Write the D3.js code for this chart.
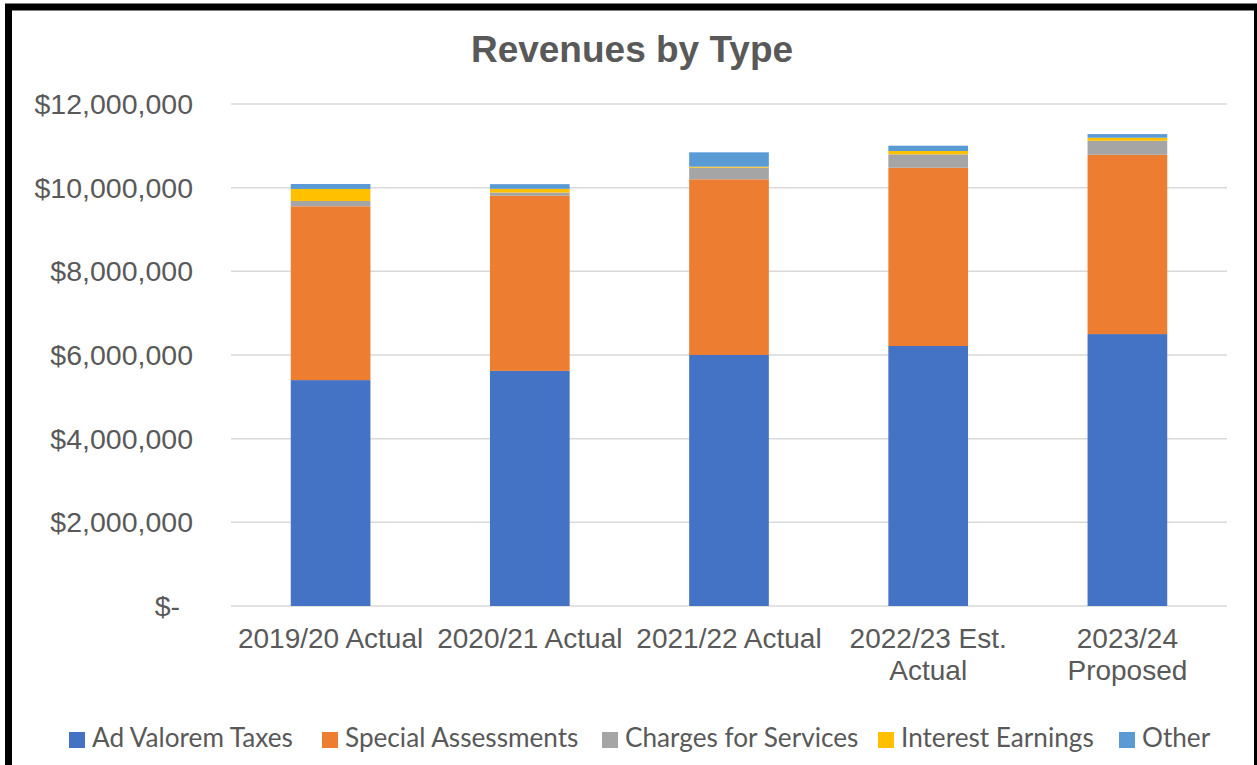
<!DOCTYPE html>
<html>
<head>
<meta charset="utf-8">
<script src="https://cdn.jsdelivr.net/npm/d3@7"></script>
<style>
  body { margin: 0; background: #fff; }
  svg { display: block; }
</style>
</head>
<body>
<svg id="chart" width="1257" height="765"></svg>
<script>
// categories (each entry is the lines of the axis label)
var categories = [
  ["2019/20 Actual"],
  ["2020/21 Actual"],
  ["2021/22 Actual"],
  ["2022/23 Est.", "Actual"],
  ["2023/24", "Proposed"]
];

// series values (dollars)
var adValorem   = [5400000, 5620000, 6000000, 6215000, 6500000];
var specialAss  = [4155000, 4185000, 4200000, 4262000, 4286000];
var charges     = [127000, 79000, 277000, 320000, 335000];
var interest    = [287000, 88000, 24000, 79000, 72000];
var other       = [119000, 112000, 344000, 127000, 88000];

var seriesNames = ["Ad Valorem Taxes", "Special Assessments", "Charges for Services", "Interest Earnings", "Other"];
var seriesColors = ["#4472C4", "#ED7D31", "#A5A5A5", "#FFC000", "#5B9BD5"];

var yTicks = [0, 2000000, 4000000, 6000000, 8000000, 10000000, 12000000];

var svg = d3.select("#chart");
var textColor = "#595959";

// rows for the stack
var rows = categories.map(function(c, i) {
  return {
    cat: c.join(" "),
    "Ad Valorem Taxes": adValorem[i],
    "Special Assessments": specialAss[i],
    "Charges for Services": charges[i],
    "Interest Earnings": interest[i],
    "Other": other[i]
  };
});

var x = d3.scaleBand()
  .domain(rows.map(function(d) { return d.cat; }))
  .range([231, 1227])
  .paddingInner(0.6)
  .paddingOuter(0.3);

var y = d3.scaleLinear().domain([0, 12000000]).range([606, 104]);

var color = d3.scaleOrdinal().domain(seriesNames).range(seriesColors);

// title
svg.append("text")
  .attr("x", 632)
  .attr("y", 62)
  .attr("text-anchor", "middle")
  .style("font-family", "'Liberation Sans', Arial, sans-serif")
  .style("font-weight", "bold")
  .style("font-size", "37px")
  .style("fill", textColor)
  .text("Revenues by Type");

// gridlines
svg.append("g")
  .selectAll("line")
  .data(yTicks)
  .enter().append("line")
  .attr("x1", 231)
  .attr("x2", 1227)
  .attr("y1", function(d) { return y(d); })
  .attr("y2", function(d) { return y(d); })
  .style("stroke", "#d9d9d9")
  .style("stroke-width", 1.5);

// y axis
var yAxis = svg.append("g")
  .attr("transform", "translate(231,0)")
  .call(d3.axisLeft(y)
    .tickValues(yTicks)
    .tickSize(0)
    .tickPadding(38)
    .tickFormat(function(d) { return d === 0 ? "$-" : "$" + d3.format(",")(d); }));
yAxis.select(".domain").remove();
yAxis.selectAll("text")
  .style("font-family", "'Liberation Sans', Arial, sans-serif")
  .style("font-size", "28.5px")
  .style("fill", textColor)
  .attr("dy", "0.33em")
  .attr("dx", function(d) { return d === 0 ? -13 : 0; });

// stacked bars
var stack = d3.stack().keys(seriesNames);
var layers = stack(rows);

svg.append("g")
  .selectAll("g")
  .data(layers)
  .enter().append("g")
  .attr("fill", function(d) { return color(d.key); })
  .selectAll("rect")
  .data(function(d) { return d; })
  .enter().append("rect")
  .attr("x", function(d) { return x(d.data.cat); })
  .attr("width", x.bandwidth())
  .attr("y", function(d) { return y(d[1]); })
  .attr("height", function(d) { return y(d[0]) - y(d[1]); });

// x axis
var xAxis = svg.append("g")
  .attr("transform", "translate(0,606)")
  .call(d3.axisBottom(x).tickSize(0).tickFormat(""));
xAxis.select(".domain").remove();
xAxis.selectAll(".tick").each(function(d, i) {
  var t = d3.select(this).append("text")
    .attr("text-anchor", "middle")
    .attr("y", 42)
    .style("font-family", "'Liberation Sans', Arial, sans-serif")
    .style("font-size", "28px")
    .style("fill", textColor);
  categories[i].forEach(function(line, j) {
    t.append("tspan").attr("x", 0).attr("dy", j === 0 ? 0 : 31.5).text(line);
  });
});

// legend
var legendX = [69, 322, 602, 878, 1119];
var legend = svg.append("g");
var probe = legend.append("text")
  .style("font-family", "Lato, 'Open Sans', sans-serif")
  .style("font-size", "100px")
  .text(seriesNames[0]);
var legendSize = 100 * 201 / probe.node().getComputedTextLength();
probe.remove();

seriesNames.forEach(function(name, i) {
  var g = legend.append("g").attr("transform", "translate(" + legendX[i] + ",732)");
  g.append("rect")
    .attr("width", 16)
    .attr("height", 16)
    .attr("fill", color(name));
  g.append("text")
    .attr("x", 23)
    .attr("y", 15)
    .style("font-family", "Lato, 'Open Sans', sans-serif")
    .style("font-size", legendSize + "px")
    .style("fill", textColor)
    .text(name);
});

// black frame
svg.append("rect")
  .attr("x", 8.5)
  .attr("y", 7)
  .attr("width", 1249)
  .attr("height", 800)
  .style("fill", "none")
  .style("stroke", "#000")
  .style("stroke-width", 7);
</script>
</body>
</html>
